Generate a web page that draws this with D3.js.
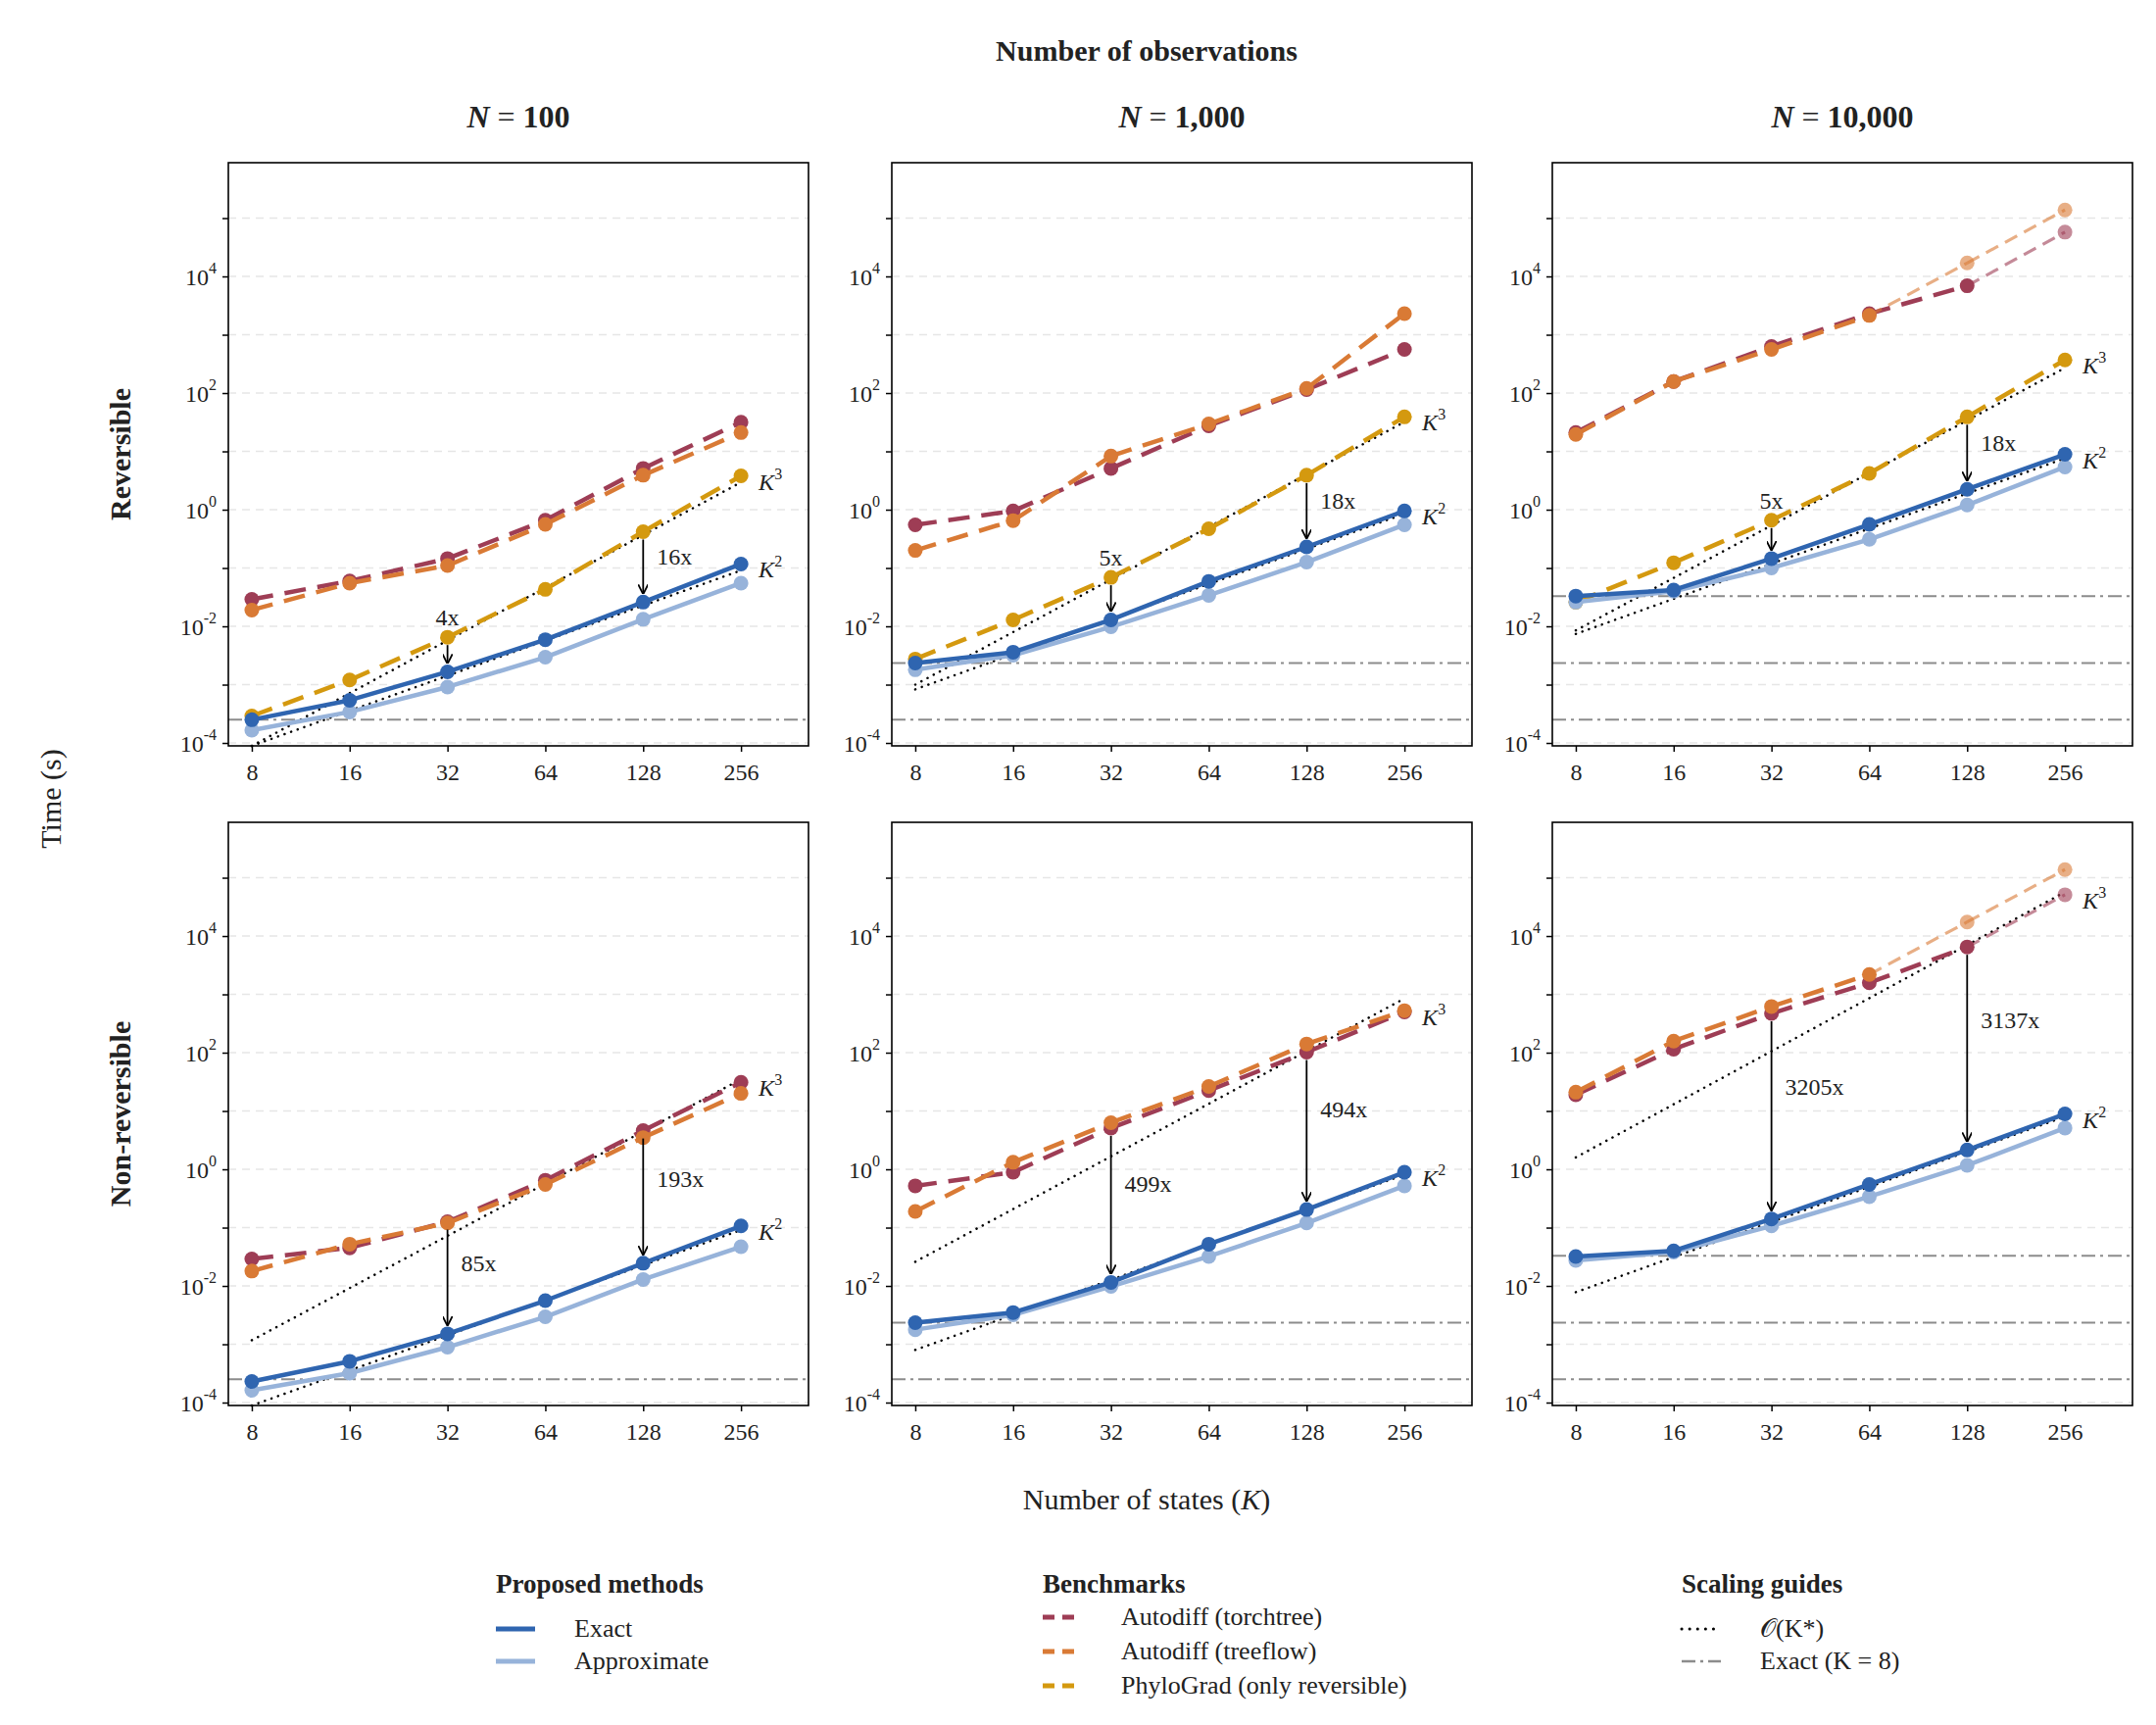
<!DOCTYPE html>
<html>
<head>
<meta charset="utf-8">
<script src="https://cdn.jsdelivr.net/npm/d3@7"></script>
<style>
  body { margin: 0; background: #fff; }
  text { font-family: "Liberation Serif", "DejaVu Serif", serif; fill: #222; }
</style>
</head>
<body>
<script>
// Chart data (seconds), K = 8..256
var states = [8, 16, 32, 64, 128, 256];
var obsLabels = ["100", "1,000", "10,000"];
var rowLabels = ["Reversible", "Non-reversible"];
var yTickExps = [-4, -3, -2, -1, 0, 1, 2, 3, 4, 5];

// Reversible
var torchRev100 = [0.029, 0.060, 0.145, 0.66, 5.1, 31.6];
var treeRev100 = [0.019, 0.055, 0.11, 0.56, 3.9, 21];
var phyloRev100 = [2.9e-4, 1.2e-3, 6.5e-3, 0.043, 0.42, 3.8];
var exactRev100 = [2.5e-4, 5.4e-4, 1.66e-3, 5.9e-3, 0.026, 0.117];
var approxRev100 = [1.66e-4, 3.4e-4, 9.1e-4, 2.95e-3, 0.0132, 0.055];

var torchRev1000 = [0.55, 0.95, 5.1, 27.5, 115, 560];
var treeRev1000 = [0.2, 0.65, 8.3, 29.5, 120, 2300];
var phyloRev1000 = [2.75e-3, 0.0129, 0.069, 0.47, 3.9, 39];
var exactRev1000 = [2.35e-3, 3.6e-3, 0.0129, 0.059, 0.23, 0.95];
var approxRev1000 = [1.8e-3, 3.2e-3, 9.8e-3, 0.034, 0.126, 0.55];

var torchRev10000 = [21, 158, 630, 2290, 6900, 57500];
var treeRev10000 = [19.5, 158, 560, 2140, 17000, 138000];
var phyloRev10000 = [0.026, 0.123, 0.66, 4.2, 39, 370];
var exactRev10000 = [0.033, 0.042, 0.145, 0.56, 2.24, 8.9];
var approxRev10000 = [0.026, 0.040, 0.10, 0.31, 1.2, 5.4];

// Non-reversible
var torchNon100 = [0.029, 0.045, 0.126, 0.65, 4.6, 31];
var treeNon100 = [0.018, 0.052, 0.12, 0.55, 3.5, 20];
var exactNon100 = [2.3e-4, 5.1e-4, 1.51e-3, 5.6e-3, 0.0245, 0.107];
var approxNon100 = [1.62e-4, 3.2e-4, 8.9e-4, 2.95e-3, 0.0129, 0.047];

var torchNon1000 = [0.52, 0.89, 5.1, 22.4, 102, 500];
var treeNon1000 = [0.19, 1.32, 6.3, 26.3, 141, 525];
var exactNon1000 = [2.35e-3, 3.5e-3, 0.0115, 0.052, 0.204, 0.89];
var approxNon1000 = [1.78e-3, 3.2e-3, 9.8e-3, 0.032, 0.12, 0.52];

var torchNon10000 = [19, 115, 470, 1580, 6500, 51000];
var treeNon10000 = [21, 158, 620, 2190, 17400, 138000];
var exactNon10000 = [0.032, 0.040, 0.141, 0.55, 2.14, 8.9];
var approxNon10000 = [0.0275, 0.038, 0.107, 0.34, 1.17, 5.1];

// extrapolated (faded) points for N = 10,000
var torchFaded10000 = [false, false, false, false, false, true];
var treeFaded10000 = [false, false, false, false, true, true];

// Scaling guides: [value at K=8, value at K=256]
var guideK3 = [[8.9e-5, 2.95], [1e-3, 32], [8.5e-3, 270], [1.17e-3, 35], [0.026, 850], [1.6, 57000]];
var guideK2 = [[8.9e-5, 0.091], [8.3e-4, 0.85], [7.4e-3, 7.6], [8.9e-5, 0.091], [8e-4, 0.81], [7.8e-3, 8]];

// Speed-up annotations: [K, label]
var speedups = [
  [[32, "4x"], [128, "16x"]], [[32, "5x"], [128, "18x"]], [[32, "5x"], [128, "18x"]],
  [[32, "85x"], [128, "193x"]], [[32, "499x"], [128, "494x"]], [[32, "3205x"], [128, "3137x"]]
];

var colors = { exact: "#2f65b0", approx: "#97b3da", torch: "#9e3d55", tree: "#d97a35", phylo: "#d4990f", ref: "#8c8c8c" };

var panels = [
  { row: 0, col: 0, torch: torchRev100, tree: treeRev100, phylo: phyloRev100, exact: exactRev100, approx: approxRev100 },
  { row: 0, col: 1, torch: torchRev1000, tree: treeRev1000, phylo: phyloRev1000, exact: exactRev1000, approx: approxRev1000 },
  { row: 0, col: 2, torch: torchRev10000, tree: treeRev10000, phylo: phyloRev10000, exact: exactRev10000, approx: approxRev10000, torchF: torchFaded10000, treeF: treeFaded10000 },
  { row: 1, col: 0, torch: torchNon100, tree: treeNon100, exact: exactNon100, approx: approxNon100 },
  { row: 1, col: 1, torch: torchNon1000, tree: treeNon1000, exact: exactNon1000, approx: approxNon1000 },
  { row: 1, col: 2, torch: torchNon10000, tree: treeNon10000, exact: exactNon10000, approx: approxNon10000, torchF: torchFaded10000, treeF: treeFaded10000 }
];
// reference lines: Exact at K=8 for each N up to the current one
var refLevels = [exactRev100[0], exactRev1000[0], exactRev10000[0]];

var svgWidth = 2200, svgHeight = 1760;
var panelX = [233, 910, 1584], panelW = 592;
var panelY = [166, 839], panelH = 595;

var svg = d3.select("body").append("svg")
  .attr("width", svgWidth).attr("height", svgHeight);

var defs = svg.append("defs");
defs.append("marker").attr("id", "arrow").attr("viewBox", "0 0 10 10")
  .attr("refX", 9).attr("refY", 5).attr("markerWidth", 10).attr("markerHeight", 10)
  .attr("markerUnits", "userSpaceOnUse").attr("orient", "auto")
  .append("path").attr("d", "M0,0 L10,5 L0,10").attr("fill", "none").attr("stroke", "#000").attr("stroke-width", 1.8);

var x = d3.scaleLog().base(2).domain([Math.pow(2, 2.76), Math.pow(2, 8.69)]).range([0, panelW]);
var y = d3.scaleLog().domain([Math.pow(10, -4.05), Math.pow(10, 5.95)]).range([panelH, 0]);

function supLabel(sel, exp) {
  sel.text("10").append("tspan").attr("dy", -12).attr("font-size", 16).text(exp);
}

panels.forEach(function(p, i) {
  var g = svg.append("g").attr("transform", "translate(" + panelX[p.col] + "," + panelY[p.row] + ")");
  var k256 = x(256);

  // grid
  yTickExps.forEach(function(e) {
    g.append("line").attr("x1", 0).attr("x2", panelW)
      .attr("y1", y(Math.pow(10, e))).attr("y2", y(Math.pow(10, e)))
      .attr("stroke", "#e6e6e6").attr("stroke-width", 1.5).attr("stroke-dasharray", "8,6");
  });

  // reference lines
  refLevels.slice(0, p.col + 1).forEach(function(v) {
    g.append("line").attr("x1", 0).attr("x2", panelW).attr("y1", y(v)).attr("y2", y(v))
      .attr("stroke", colors.ref).attr("stroke-width", 2).attr("stroke-dasharray", "14,5,3,5");
  });

  // axes
  var yAxis = d3.axisLeft(y).tickValues(yTickExps.map(function(e) { return Math.pow(10, e); }))
    .tickSize(6).tickFormat("");
  var ya = g.append("g").call(yAxis);
  ya.select(".domain").remove();
  ya.selectAll("line").attr("stroke-width", 1.5);
  [-4, -2, 0, 2, 4].forEach(function(e) {
    g.append("text").attr("x", -12).attr("y", y(Math.pow(10, e)) + 9)
      .attr("text-anchor", "end").attr("font-size", 24).call(supLabel, e < 0 ? "-" + (-e) : e);
  });
  var xAxis = d3.axisBottom(x).tickValues(states).tickFormat(d3.format("d")).tickSize(6);
  var xa = g.append("g").attr("transform", "translate(0," + panelH + ")").call(xAxis);
  xa.select(".domain").remove();
  xa.selectAll("line").attr("stroke-width", 1.5);
  xa.selectAll("text").attr("font-size", 24).attr("dy", "1.1em")
    .style("font-family", "'Liberation Serif', serif").attr("fill", "#222");

  // guides
  var guideLine = function(arr) {
    g.append("line").attr("x1", x(8)).attr("x2", x(256)).attr("y1", y(arr[0])).attr("y2", y(arr[1]))
      .attr("stroke", "#000").attr("stroke-width", 2.5).attr("stroke-dasharray", "0.1,7").attr("stroke-linecap", "round");
  };
  guideLine(guideK3[i]);
  guideLine(guideK2[i]);

  function drawSeries(vals, color, dashed, width, faded) {
    faded = faded || states.map(function() { return false; });
    for (var j = 0; j < states.length - 1; j++) {
      g.append("line").attr("x1", x(states[j])).attr("x2", x(states[j + 1]))
        .attr("y1", y(vals[j])).attr("y2", y(vals[j + 1]))
        .attr("stroke", color).attr("stroke-width", faded[j + 1] ? width * 0.7 : width)
        .attr("opacity", faded[j + 1] ? 0.6 : 1)
        .attr("stroke-dasharray", dashed ? (faded[j + 1] ? "14,8" : "22,12") : null);
    }
    g.selectAll(null).data(vals).enter().append("circle")
      .attr("cx", function(d, j) { return x(states[j]); })
      .attr("cy", function(d) { return y(d); })
      .attr("r", 7.5).attr("fill", color)
      .attr("opacity", function(d, j) { return faded[j] ? 0.6 : 1; });
  }
  drawSeries(p.torch, colors.torch, true, 4.5, p.torchF);
  drawSeries(p.tree, colors.tree, true, 4.5, p.treeF);
  if (p.phylo) drawSeries(p.phylo, colors.phylo, true, 4.5);
  drawSeries(p.approx, colors.approx, false, 4.5);
  drawSeries(p.exact, colors.exact, false, 4.5);

  // speed-up arrows
  var top = p.phylo || p.torch;
  speedups[i].forEach(function(s) {
    var j = states.indexOf(s[0]);
    var xx = x(s[0]), y0 = y(top[j]) + 8, y1 = y(p.exact[j]) - 9;
    g.append("line").attr("x1", xx).attr("x2", xx).attr("y1", y0).attr("y2", y1)
      .attr("stroke", "#000").attr("stroke-width", 1.8).attr("marker-end", "url(#arrow)");
    if (p.row === 0 && s[0] === 32) {
      g.append("text").attr("x", xx).attr("y", y0 - 20).attr("text-anchor", "middle").attr("font-size", 24).text(s[1]);
    } else {
      var ym = p.row === 0 ? (y0 + y1) / 2 - 10 : y0 + (y1 - y0) * 0.35;
      g.append("text").attr("x", xx + 14).attr("y", ym + 8).attr("font-size", 24).text(s[1]);
    }
  });

  // K labels
  var k3v = p.phylo ? p.phylo[5] : p.torch[5];
  g.append("text").attr("x", k256 + 18).attr("y", y(k3v) + 14).attr("font-size", 24).attr("font-style", "italic")
    .text("K").append("tspan").attr("dy", -11).attr("font-size", 16).attr("font-style", "normal").text("3");
  g.append("text").attr("x", k256 + 18).attr("y", y(p.exact[5]) + 14).attr("font-size", 24).attr("font-style", "italic")
    .text("K").append("tspan").attr("dy", -11).attr("font-size", 16).attr("font-style", "normal").text("2");

  // frame
  g.append("rect").attr("width", panelW).attr("height", panelH).attr("fill", "none").attr("stroke", "#000").attr("stroke-width", 1.6);
});

// titles
svg.append("text").attr("x", 1170).attr("y", 62).attr("text-anchor", "middle")
  .attr("font-size", 30).attr("font-weight", "bold").text("Number of observations");
obsLabels.forEach(function(l, c) {
  var t = svg.append("text").attr("x", panelX[c] + panelW / 2).attr("y", 130).attr("text-anchor", "middle")
    .attr("font-size", 32).attr("font-weight", "bold");
  t.append("tspan").attr("font-style", "italic").text("N");
  t.append("tspan").attr("font-weight", "normal").text(" = ");
  t.append("tspan").text(l);
});
rowLabels.forEach(function(l, r) {
  svg.append("text").attr("transform", "translate(133," + (panelY[r] + panelH / 2) + ") rotate(-90)")
    .attr("text-anchor", "middle").attr("font-size", 30).attr("font-weight", "bold").text(l);
});
svg.append("text").attr("transform", "translate(62,815) rotate(-90)").attr("text-anchor", "middle")
  .attr("font-size", 30).text("Time (s)");
var xt = svg.append("text").attr("x", 1170).attr("y", 1540).attr("text-anchor", "middle").attr("font-size", 30);
xt.append("tspan").text("Number of states (");
xt.append("tspan").attr("font-style", "italic").text("K");
xt.append("tspan").text(")");

// legend
var legendGroups = [
  { x: 506, title: "Proposed methods", items: [["Exact", colors.exact, null, 5], ["Approximate", colors.approx, null, 5]] },
  { x: 1064, title: "Benchmarks", items: [["Autodiff (torchtree)", colors.torch, "12,8", 5], ["Autodiff (treeflow)", colors.tree, "12,8", 5], ["PhyloGrad (only reversible)", colors.phylo, "12,8", 5]] },
  { x: 1716, title: "Scaling guides", items: [["\u{1D4AA}(K*)", "#000", "0.1,8", 3], ["Exact (K = 8)", colors.ref, "14,5,3,5", 2.5]] }
];
legendGroups.forEach(function(lg) {
  svg.append("text").attr("x", lg.x).attr("y", 1625).attr("font-size", 27).attr("font-weight", "bold").text(lg.title);
  var gap = lg.items.length === 3 ? 35 : 33;
  var y0 = lg.items.length === 3 ? 1650 : 1662;
  lg.items.forEach(function(it, k) {
    var yy = y0 + k * gap;
    svg.append("line").attr("x1", lg.x).attr("x2", lg.x + 40).attr("y1", yy).attr("y2", yy)
      .attr("stroke", it[1]).attr("stroke-width", it[3]).attr("stroke-dasharray", it[2])
      .attr("stroke-linecap", it[2] === "0.1,8" ? "round" : "butt");
    svg.append("text").attr("x", lg.x + 80).attr("y", yy + 8).attr("font-size", 26).attr("fill", "#444").text(it[0]);
  });
});
</script>
</body>
</html>
